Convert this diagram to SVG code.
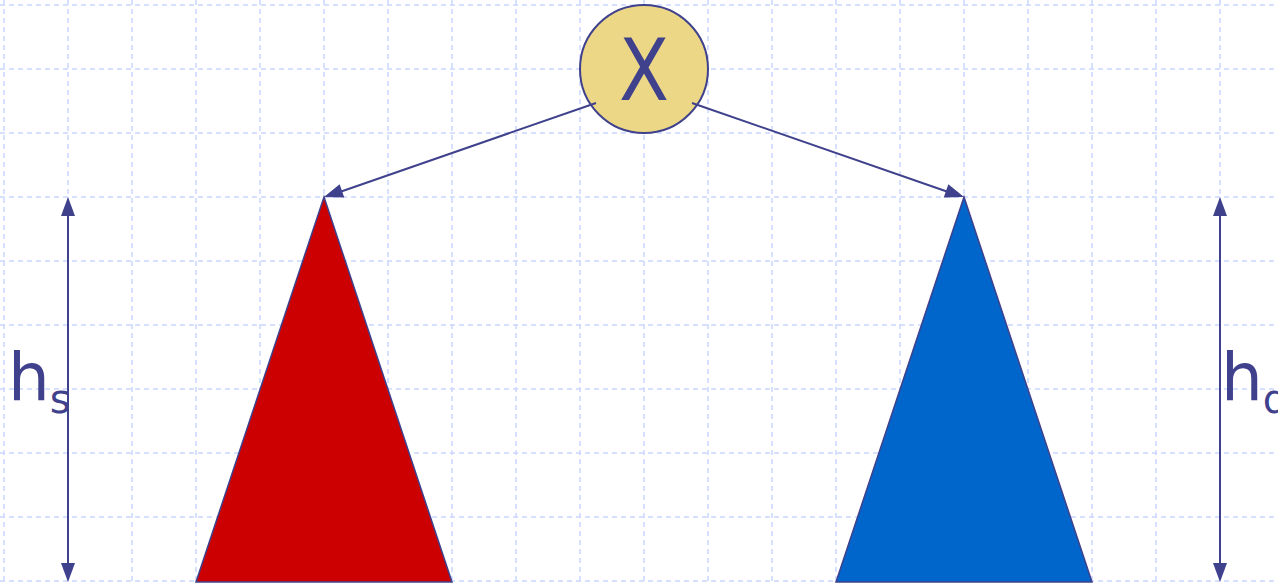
<svg xmlns="http://www.w3.org/2000/svg" width="1278" height="583" viewBox="0 0 1278 583">
<style>
.grid line{stroke:#CCD6FF;stroke-width:1.5;stroke-dasharray:5 4}
.conn{stroke:#3F418C;stroke-width:2;fill:none}
.lbl{font-family:"DejaVu Sans","Liberation Sans",sans-serif;fill:#3F418C}
</style>
<defs>
<path id="head" d="M0,0 L-19,-7 L-19,7 z" fill="#3F418C"/>
</defs>
<rect width="1278" height="583" fill="#FFFFFF"/>
<g class="grid">
<line x1="4" y1="0" x2="4" y2="583"/><line x1="68" y1="0" x2="68" y2="583"/><line x1="132" y1="0" x2="132" y2="583"/><line x1="196" y1="0" x2="196" y2="583"/><line x1="260" y1="0" x2="260" y2="583"/><line x1="324" y1="0" x2="324" y2="583"/><line x1="388" y1="0" x2="388" y2="583"/><line x1="452" y1="0" x2="452" y2="583"/><line x1="516" y1="0" x2="516" y2="583"/><line x1="580" y1="0" x2="580" y2="583"/><line x1="644" y1="0" x2="644" y2="583"/><line x1="708" y1="0" x2="708" y2="583"/><line x1="772" y1="0" x2="772" y2="583"/><line x1="836" y1="0" x2="836" y2="583"/><line x1="900" y1="0" x2="900" y2="583"/><line x1="964" y1="0" x2="964" y2="583"/><line x1="1028" y1="0" x2="1028" y2="583"/><line x1="1092" y1="0" x2="1092" y2="583"/><line x1="1156" y1="0" x2="1156" y2="583"/><line x1="1220" y1="0" x2="1220" y2="583"/>
<line x1="0" y1="5" x2="1278" y2="5"/><line x1="0" y1="69" x2="1278" y2="69"/><line x1="0" y1="133" x2="1278" y2="133"/><line x1="0" y1="197" x2="1278" y2="197"/><line x1="0" y1="261" x2="1278" y2="261"/><line x1="0" y1="325" x2="1278" y2="325"/><line x1="0" y1="389" x2="1278" y2="389"/><line x1="0" y1="453" x2="1278" y2="453"/><line x1="0" y1="517" x2="1278" y2="517"/><line x1="0" y1="581" x2="1278" y2="581"/>
</g>
<g id="tree-left">
<polygon points="324,197 196,582 452,582" fill="#CC0000" stroke="#3F418C" stroke-width="1.5"/>
</g>
<g id="tree-right">
<polygon points="964,197 836,582 1092,582" fill="#0066CC" stroke="#3F418C" stroke-width="1.5"/>
</g>
<g id="node-x">
<circle cx="644" cy="69" r="64" fill="#EBD785" stroke="#3F418C" stroke-width="2"/>
<text class="lbl" x="644" y="100" font-size="86" text-anchor="middle" textLength="50" lengthAdjust="spacingAndGlyphs">X</text>
</g>
<g id="connectors">
<line class="conn" x1="596" y1="103" x2="334" y2="194"/>
<use href="#head" transform="translate(324,197) rotate(160.9)"/>
<line class="conn" x1="692" y1="103" x2="954" y2="194"/>
<use href="#head" transform="translate(964,197) rotate(19.1)"/>
<line class="conn" stroke-width="3" x1="68" y1="210" x2="68" y2="570"/>
<use href="#head" transform="translate(68,197) rotate(-90)"/>
<use href="#head" transform="translate(68,582) rotate(90)"/>
<line class="conn" stroke-width="3" x1="1220" y1="210" x2="1220" y2="570"/>
<use href="#head" transform="translate(1220,197) rotate(-90)"/>
<use href="#head" transform="translate(1220,582) rotate(90)"/>
</g>
<g id="label-hs">
<text class="lbl" x="8" y="400" font-size="66">h<tspan font-size="40" dy="13">s</tspan></text>
</g>
<g id="label-hd">
<text class="lbl" x="1221" y="400" font-size="66">h<tspan font-size="40" dy="13">d</tspan></text>
</g>
</svg>
